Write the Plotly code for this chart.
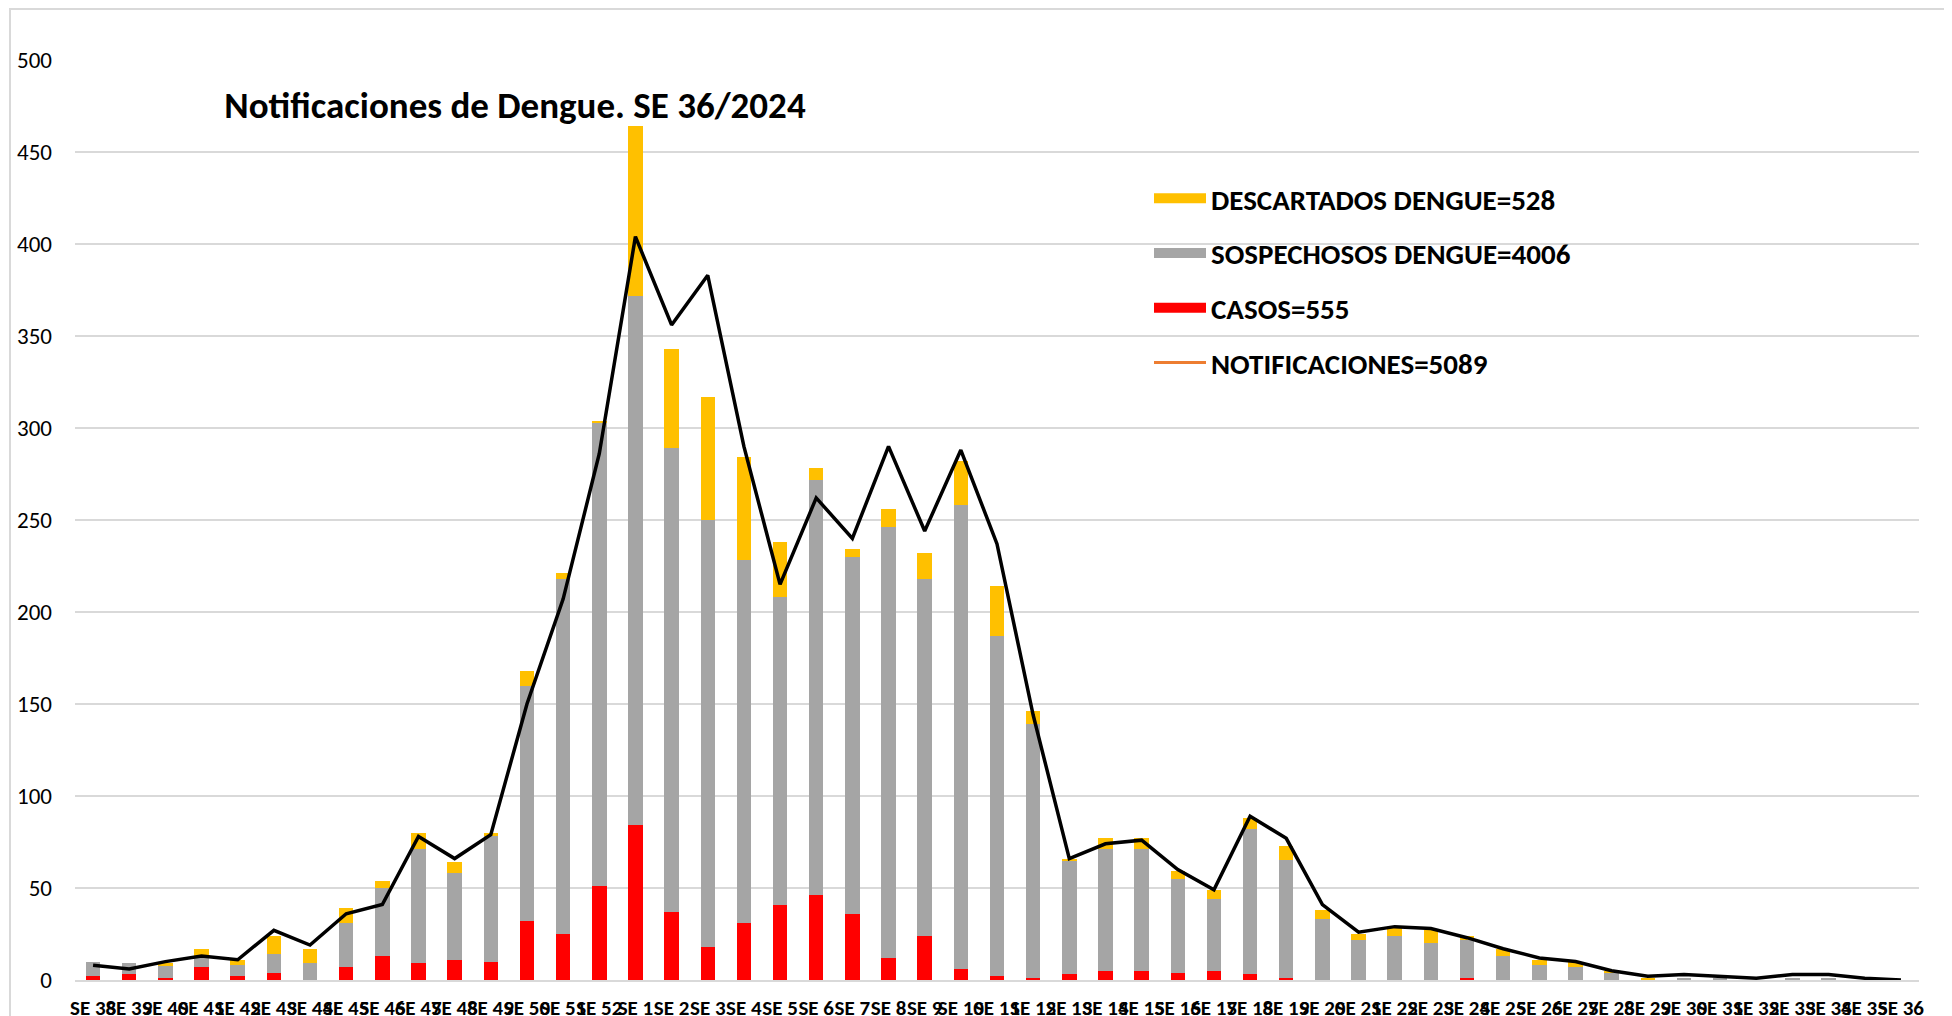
import plotly.graph_objects as go

weeks = ["SE 38", "SE 39", "SE 40", "SE 41", "SE 42", "SE 43", "SE 44", "SE 45", "SE 46", "SE 47",
         "SE 48", "SE 49", "SE 50", "SE 51", "SE 52"] + [f"SE {i}" for i in range(1, 37)]

casos = [2, 3, 1, 7, 2, 4, 0, 7, 13, 9, 11, 10, 32, 25, 51,
         84, 37, 18, 31, 41, 46, 36, 12, 24, 6, 2, 1, 3, 5, 5, 4, 5, 3, 1, 0,
         0, 0, 0, 1, 0, 0, 0, 0, 0, 0, 0, 0, 0, 0, 0, 0]
sospechosos = [8, 6, 7, 6, 6, 10, 9, 24, 37, 62, 47, 68, 128, 193, 252,
               288, 252, 232, 197, 167, 226, 194, 234, 194, 252, 185, 138, 62, 66, 66, 51, 39, 79, 64, 33,
               22, 24, 20, 21, 13, 8, 7, 4, 0, 1, 1, 0, 1, 1, 0, 0]
descartados = [0, 0, 1, 4, 3, 10, 8, 8, 4, 9, 6, 2, 8, 3, 1,
               92, 54, 67, 56, 30, 6, 4, 10, 14, 24, 27, 7, 1, 6, 6, 4, 5, 6, 8, 5,
               3, 4, 7, 2, 4, 3, 3, 1, 1, 0, 0, 0, 0, 0, 0, 0]
notificaciones = [8, 6, 10, 13, 11, 27, 19, 36, 41, 78, 66, 79, 150, 207, 286,
                  404, 356, 383, 290, 215, 262, 240, 290, 244, 288, 237, 144, 66, 74, 76, 60, 49, 89, 77, 41,
                  26, 29, 28, 23, 17, 12, 10, 5, 2, 3, 2, 1, 3, 3, 1, 0]

legend_names = ["DESCARTADOS DENGUE=528", "SOSPECHOSOS DENGUE=4006", "CASOS=555", "NOTIFICACIONES=5089"]

C_YEL = "#FFC000"
C_GRY = "#A5A5A5"
C_RED = "#FF0000"
C_ORA = "#ED7D31"

FONT = "Carlito, 'Liberation Sans Narrow', 'Liberation Sans', Arial, sans-serif"

fig = go.Figure()
fig.add_trace(go.Bar(x=weeks, y=casos, marker=dict(color=C_RED, line=dict(width=0)), showlegend=False, name="CASOS"))
fig.add_trace(go.Bar(x=weeks, y=sospechosos, marker=dict(color=C_GRY, line=dict(width=0)), showlegend=False, name="SOSPECHOSOS"))
fig.add_trace(go.Bar(x=weeks, y=descartados, marker=dict(color=C_YEL, line=dict(width=0)), showlegend=False, name="DESCARTADOS"))
fig.add_trace(go.Scatter(x=weeks, y=notificaciones, mode="lines", line=dict(color="black", width=3.5),
                         showlegend=False, name="NOTIFICACIONES"))

# legend entries
for name, col, w, g in zip(legend_names, [C_YEL, C_GRY, C_RED, C_ORA], [13, 13, 13, 3], ["a", "b", "c", "d"]):
    fig.add_trace(go.Scatter(x=[None], y=[None], mode="lines", line=dict(color=col, width=w),
                             name=name, legendgroup=g, showlegend=True))

# page has an 8px body margin; figure coordinates are page coordinates minus 8
W, H = 1944, 1008
L, R, T, B = 67, 33, 52, 36
pw, ph = W - L - R, H - T - B

fig.update_layout(
    width=W, height=H,
    margin=dict(l=L, r=R, t=T, b=B, autoexpand=False),
    barmode="stack",
    bargap=0.6,
    plot_bgcolor="white",
    paper_bgcolor="white",
    font=dict(family=FONT, color="black"),
    title=dict(text="<b>Notificaciones de Dengue. SE 36/2024</b>", x=507 / W, xanchor="center",
               y=1 - 97 / H, yanchor="middle", font=dict(size=37, family=FONT, color="black")),
    legend=dict(x=(1141 - L) / pw, y=1 - (165 - T) / ph, xanchor="left", yanchor="top",
                font=dict(size=29, family=FONT, color="black", weight="bold"), traceorder="grouped",
                tracegroupgap=14, bgcolor="rgba(0,0,0,0)", itemwidth=52),
    xaxis=dict(type="category", tickmode="array", tickvals=weeks, ticktext=weeks, tickangle=0,
               tickfont=dict(size=21, family=FONT, color="black", weight="bold"), showgrid=False,
               showline=True, linecolor="#D9D9D9", linewidth=2, ticks="", ticklabelstandoff=8,
               automargin=False),
    yaxis=dict(range=[0, 500], dtick=50, showgrid=True, gridcolor="#D9D9D9", gridwidth=1.5,
               tickfont=dict(size=23, family=FONT, color="black"), zeroline=False, showline=False,
               ticks="", ticklabelstandoff=22, automargin=False),
    shapes=[dict(type="rect", xref="paper", yref="paper",
                 x0=(2 - L) / pw, x1=(1960 - L) / pw, y0=-0.2, y1=1 + (T - 1) / ph,
                 line=dict(color="#D9D9D9", width=2), fillcolor="rgba(0,0,0,0)", layer="below")],
)

fig.write_html("out.html")
